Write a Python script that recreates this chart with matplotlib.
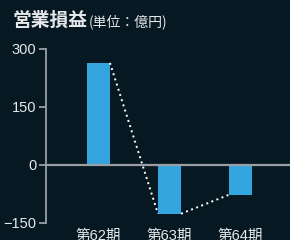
import matplotlib
matplotlib.use("Agg")
import matplotlib.pyplot as plt

categories = ["第62期", "第63期", "第64期"]
values = [264, -126, -77]
yticks = [300, 150, 0, -150]
ytick_labels = ["300", "150", "0", "\u2212150"]

bg = "#061923"
bar_color = "#33a4dd"
axis_color = "#9a9fa3"
text_color = "#e6e8ea"

plt.rcParams['font.family'] = ['Liberation Sans', 'Noto Sans CJK JP', 'DejaVu Sans']

fig = plt.figure(figsize=(2.9, 2.4), dpi=100, facecolor=bg)
ax = fig.add_axes([46/290, 17/240, 244/290, 174/240], facecolor=bg)

x = list(range(len(categories)))
w = 0.324
ax.bar(x, values, width=w, color=bar_color, zorder=2)
ax.axhline(0, color=axis_color, lw=1.6, zorder=3)

for i in range(len(values) - 1):
    ax.plot([x[i] + w/2, x[i+1] - w/2], [values[i], values[i+1]],
            color="white", lw=1.4, ls=(0, (1, 1.8)), zorder=4)

ax.set_xlim(-0.739, 2.697)
ax.set_ylim(-150, 300)
ax.set_yticks(yticks)
ax.set_yticklabels(ytick_labels)
ax.set_xticks(x)
ax.set_xticklabels(categories)

for s in ["top", "right", "bottom"]:
    ax.spines[s].set_visible(False)
ax.spines["left"].set_color(axis_color)
ax.spines["left"].set_linewidth(1.3)
ax.tick_params(axis="y", colors=axis_color, labelcolor=text_color, length=5, width=1.3, labelsize=10.5, pad=2)
ax.tick_params(axis="x", length=0, labelcolor=text_color, labelsize=10.5, pad=4)

fig.text(13/290, 1 - 26/240, "営業損益", color=text_color, fontsize=13.5, fontweight="bold", va="baseline",
         family=['Noto Sans CJK JP', 'DejaVu Sans'])
fig.text(89/290, 1 - 26/240, "(単位：億円)", color=text_color, fontsize=10, va="baseline",
         family=['Noto Sans CJK JP', 'DejaVu Sans'])

fig.savefig("out.png", dpi=100, facecolor=bg)
